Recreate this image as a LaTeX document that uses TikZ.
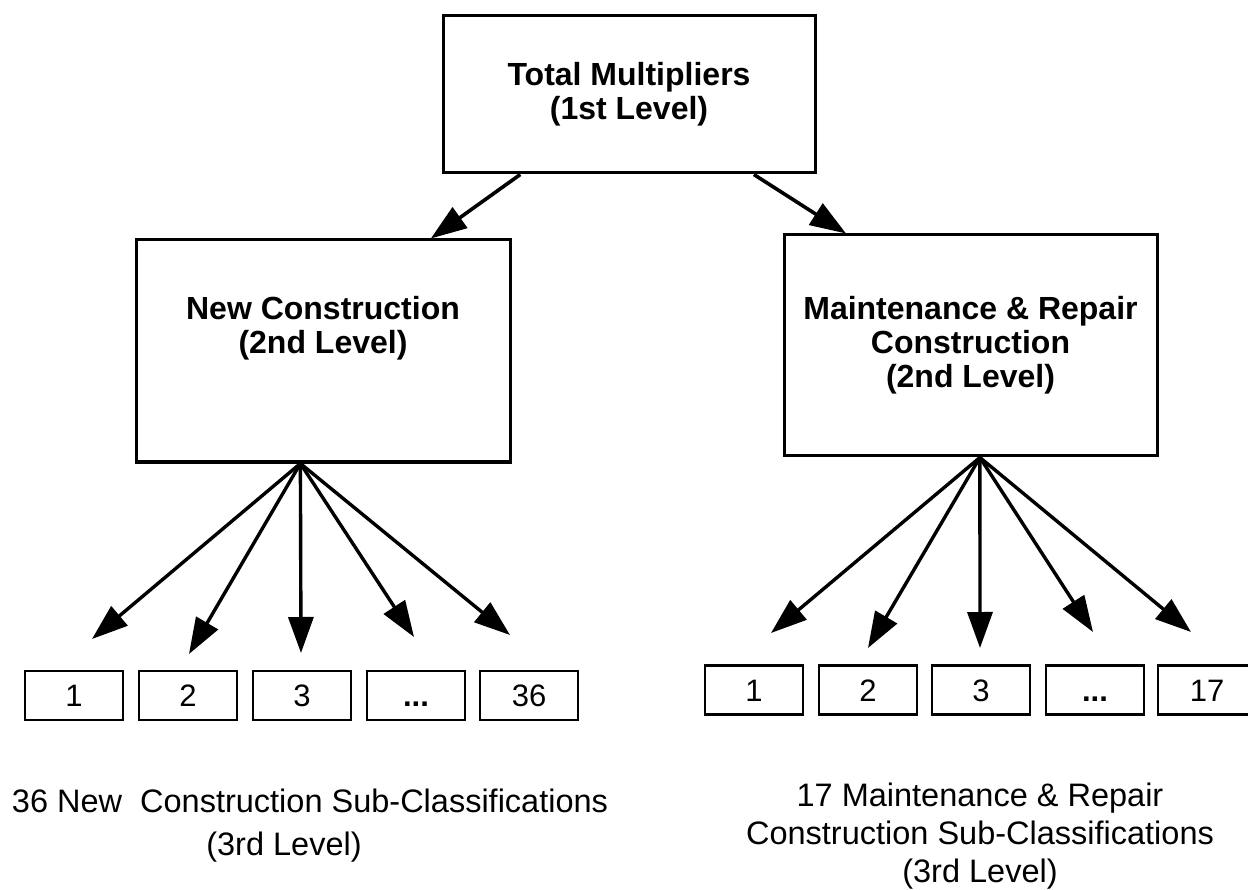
\documentclass[tikz,border=0pt]{standalone}
\usepackage{fontspec}
\setmainfont{Liberation Sans}
\usetikzlibrary{arrows.meta}
\usetikzlibrary{calc}

\begin{document}
\begin{tikzpicture}[x=1pt, y=-1pt, >={Triangle[length=36pt, width=25pt]},
        boxtext/.style={align=center, font=\fontsize{32}{34}\selectfont\bfseries},
        bigbox/.style={draw, line width=3pt, boxtext},
        smallbox/.style={draw, line width=2.8pt, minimum width=98pt, minimum height=49pt, inner sep=0pt, text height=22pt, text depth=0pt, font=\fontsize{31}{31}\selectfont},
        caption/.style={align=center, font=\fontsize{32.5}{#1}\selectfont}]
        \useasboundingbox (0,0) rectangle (1248,890);
        \node[bigbox, minimum width=372pt, minimum height=157pt] (top) at (629,94.5) {Total Multipliers\\(1st Level)};
        \node[bigbox, minimum width=374pt, minimum height=222pt, label={[boxtext, yshift=23pt]center:New Construction\\(2nd Level)}] (nc) at (323,351) {};
        \node[bigbox, minimum width=373pt, minimum height=221pt] (mr) at (970.5,345.5) {Maintenance \& Repair\\Construction\\(2nd Level)};
        \path[->, line width=3.6pt] ($(top.south west)!0.21!(top.south east)$) edge ($(nc.north west)!0.786!(nc.north east)$);
        \path[->, line width=3.6pt] ($(top.south west)!0.833!(top.south east)$) edge ($(mr.north west)!0.169!(mr.north east)$);
        \coordinate (ncfan) at ($(nc.south west)!0.44!(nc.south east)$);
        \coordinate (mrfan) at ($(mr.south west)!0.525!(mr.south east)$);
        \coordinate (nca) at (92,639);
        \coordinate (ncb) at (189,654);
        \coordinate (ncc) at (301,653);
        \coordinate (ncd) at (414,637);
        \coordinate (nce) at (510,635);
        \coordinate (mra) at (771,633);
        \coordinate (mrb) at (868,648);
        \coordinate (mrc) at (980,648);
        \coordinate (mrd) at (1093,632);
        \coordinate (mre) at (1191,632);
        \path[->, line width=3.4pt] (ncfan) edge (nca) edge (ncb) edge (ncc) edge (ncd) edge (nce);
        \path[->, line width=3.4pt] (mrfan) edge (mra) edge (mrb) edge (mrc) edge (mrd) edge (mre);
        \node[smallbox] (nc1) at (74,695.5) {1};
        \node[smallbox] (nc2) at (188,695.5) {2};
        \node[smallbox] (nc3) at (302,695.5) {3};
        \node[smallbox] (nc4) at (416,695.5) {\textbf{...}};
        \node[smallbox] (nc36) at (529,695.5) {36};
        \node[smallbox] (mr1) at (754,690) {1};
        \node[smallbox] (mr2) at (868,690) {2};
        \node[smallbox] (mr3) at (981,690) {3};
        \node[smallbox] (mr4) at (1095,690) {\textbf{...}};
        \node[smallbox] (mr17) at (1207,690) {17};
        \node[caption=43pt] (nclabel) at (310,826) {36 New\ \ Construction Sub-Classifications\\(3rd Level)\hspace*{52pt}};
        \node[caption=38pt] (mrlabel) at (980,836) {17 Maintenance \& Repair\\Construction Sub-Classifications\\(3rd Level)};
    \end{tikzpicture}
\end{document}
